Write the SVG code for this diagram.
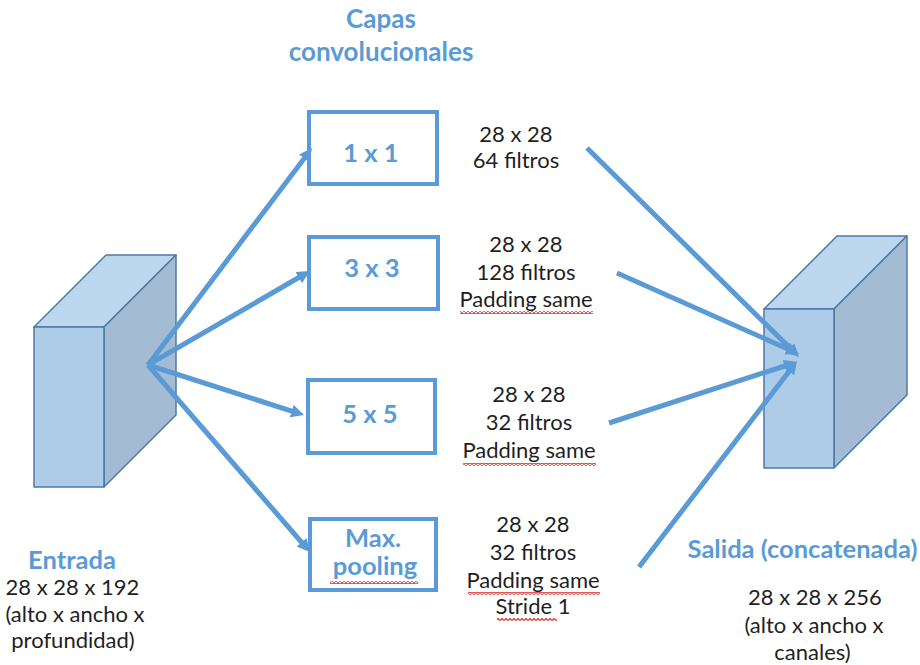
<svg xmlns="http://www.w3.org/2000/svg" width="920" height="665" viewBox="0 0 920 665">
  <defs>
    <style>
      .face-front { fill: #aecbe8; stroke: #4e7aa6; stroke-width: 1.5; stroke-linejoin: round; }
      .face-top { fill: #bdd7ee; stroke: #4e7aa6; stroke-width: 1.5; stroke-linejoin: round; }
      .face-side { fill: #a4bcd3; stroke: #4e7aa6; stroke-width: 1.5; stroke-linejoin: round; }
      .box { fill: #ffffff; stroke: #5b9bd5; stroke-width: 4; }
      .blue { font-family: Lato, "Liberation Sans", sans-serif; font-weight: bold; font-size: 25.5px; fill: #5b9bd5; text-anchor: middle; }
      .title { font-size: 26px; }
      .dark { font-family: Lato, "Liberation Sans", sans-serif; font-size: 22px; fill: #1f1f1f; text-anchor: middle; }
      .link { fill: none; stroke: #5b9bd5; stroke-width: 5; marker-end: url(#head); }
    </style>
    <marker id="head" viewBox="0 -7 14 14" markerUnits="userSpaceOnUse" markerWidth="14" markerHeight="14" refX="5" refY="0" orient="auto">
      <path d="M0,-6.5 L13,0 L0,6.5 z" fill="#5b9bd5"/>
    </marker>
    <!-- spell-check style squiggle -->
    <pattern id="squiggle" patternUnits="userSpaceOnUse" width="4" height="3">
      <path d="M0,2.5 L2,0.5 L4,2.5" fill="none" stroke="#e02f2f" stroke-width="1.2"/>
    </pattern>
  </defs>

  <!-- input volume -->
  <g id="entrada">
    <polygon class="face-top" points="34,327 106,255 176,255 104,327"/>
    <polygon class="face-side" points="104,327 176,255 176,415 104,487"/>
    <rect class="face-front" x="34" y="327" width="70" height="160"/>
    <text class="blue" x="72" y="569">Entrada</text>
    <text class="dark" x="72.5" y="595">28 x 28 x 192</text>
    <text class="dark" x="75" y="622">(alto x ancho x</text>
    <text class="dark" x="73" y="648">profundidad)</text>
  </g>

  <!-- output volume -->
  <g id="salida">
    <polygon class="face-top" points="764,309 837,236 907,236 834,309"/>
    <polygon class="face-side" points="834,309 907,236 907,395 834,468"/>
    <rect class="face-front" x="764" y="309" width="70" height="159"/>
    <text class="blue" x="802.5" y="558">Salida (concatenada)</text>
    <text class="dark" x="815" y="605">28 x 28 x 256</text>
    <text class="dark" x="814" y="633">(alto x ancho x</text>
    <text class="dark" x="812.5" y="660">canales)</text>
  </g>

  <g id="titulo">
    <text class="blue title" x="381" y="28">Capas</text>
    <text class="blue title" x="381" y="61">convolucionales</text>
  </g>

  <!-- parallel branches -->
  <g id="conv1x1">
    <rect class="box" x="309" y="112" width="128" height="72"/>
    <text class="blue" x="371" y="162">1 x 1</text>
    <text class="dark" x="516" y="142">28 x 28</text>
    <text class="dark" x="516" y="168">64 filtros</text>
  </g>

  <g id="conv3x3">
    <rect class="box" x="309" y="237" width="129" height="72"/>
    <text class="blue" x="372" y="277">3 x 3</text>
    <text class="dark" x="526" y="252">28 x 28</text>
    <text class="dark" x="526" y="280">128 filtros</text>
    <text class="dark" x="526" y="307">Padding same</text>
    <rect x="460" y="311" width="133" height="3" fill="url(#squiggle)"/>
  </g>

  <g id="conv5x5">
    <rect class="box" x="308" y="380" width="127" height="73"/>
    <text class="blue" x="370" y="423">5 x 5</text>
    <text class="dark" x="529" y="402">28 x 28</text>
    <text class="dark" x="529" y="430">32 filtros</text>
    <text class="dark" x="529" y="458">Padding same</text>
    <rect x="463" y="463" width="133" height="3" fill="url(#squiggle)"/>
  </g>

  <g id="maxpool">
    <rect class="box" x="310" y="519" width="126" height="71"/>
    <text class="blue" x="373" y="547">Max.</text>
    <text class="blue" x="375" y="575">pooling</text>
    <rect x="330" y="581" width="88" height="3" fill="url(#squiggle)"/>
    <text class="dark" x="533" y="532">28 x 28</text>
    <text class="dark" x="533" y="560">32 filtros</text>
    <text class="dark" x="533" y="588">Padding same</text>
    <rect x="468" y="592" width="132" height="3" fill="url(#squiggle)"/>
    <text class="dark" x="533" y="614">Stride 1</text>
    <rect x="497" y="618" width="60" height="3" fill="url(#squiggle)"/>
  </g>

  <!-- connectors -->
  <g id="connectors">
    <line class="link" x1="148" y1="365" x2="307.2" y2="154.4"/>
    <line class="link" x1="148" y1="365" x2="303.1" y2="275.0"/>
    <line class="link" x1="148" y1="365" x2="296.4" y2="412.6"/>
    <line class="link" x1="148" y1="365" x2="304.8" y2="546.0"/>
    <line class="link" x1="587" y1="148" x2="793.3" y2="351.4"/>
    <line class="link" x1="617" y1="273" x2="791.7" y2="350.7"/>
    <line class="link" x1="609" y1="423" x2="789.4" y2="364.5"/>
    <line class="link" x1="639" y1="567" x2="792.1" y2="367.4"/>
  </g>
</svg>
